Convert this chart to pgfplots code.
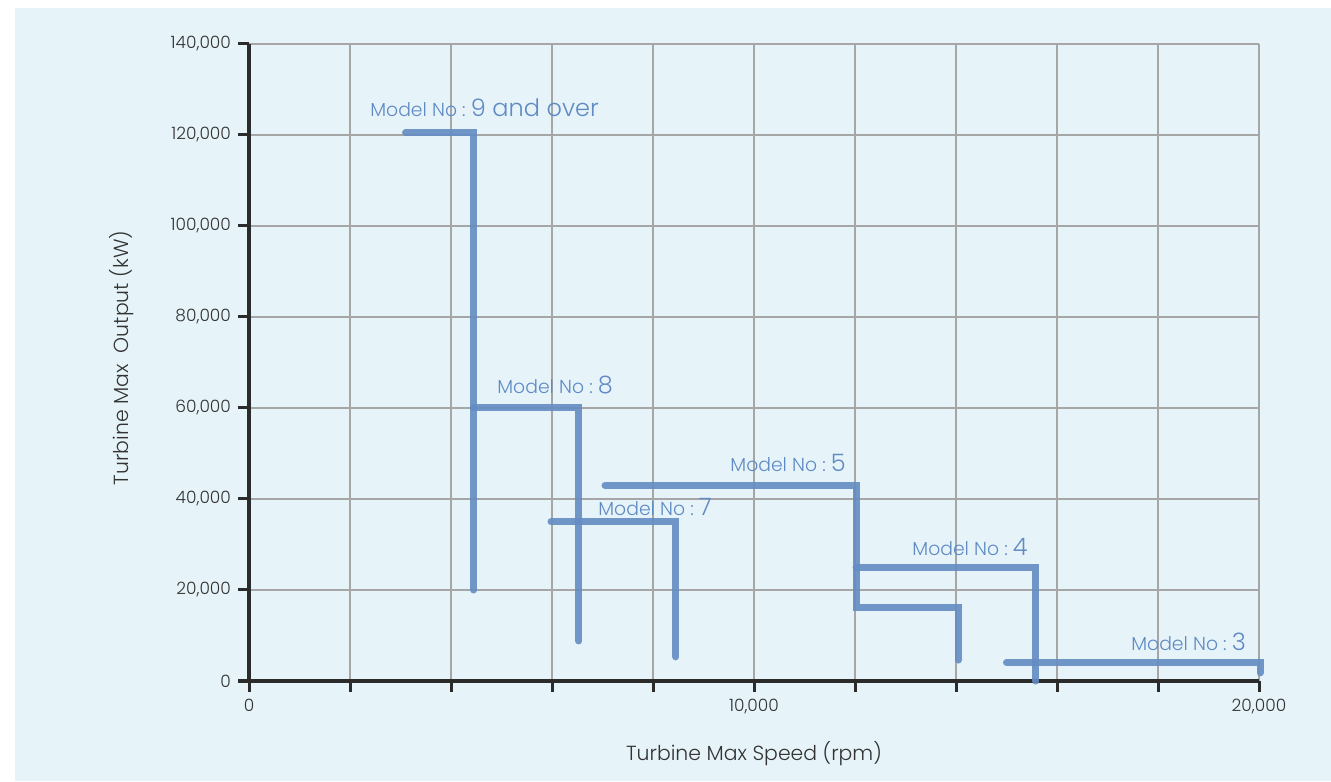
\documentclass[border=0pt]{standalone}
\usepackage{pgfplots}
\pgfplotsset{compat=1.18}
\usepackage{fontspec}
\setmainfont{Poppins}[UprightFont=* Light]

\definecolor{bgc}{HTML}{E6F4F9}
\definecolor{lineblue}{HTML}{648CC3}
\definecolor{labelblue}{HTML}{5F8AC4}
\definecolor{axisdark}{HTML}{2B2B2B}
\definecolor{gridgray}{HTML}{A6A6A6}
\definecolor{textdark}{HTML}{333333}

\tikzset{mtext/.style={anchor=base west, inner sep=0pt, text=labelblue}}

% label: small "Model No :" then a bigger model number
\newcommand{\mlab}[1]{{\fontsize{9.4}{11}\selectfont Model No :\ }{\fontsize{12}{14}\selectfont #1}}

\begin{document}
\begin{tikzpicture}
\fill[bgc] (7.5pt,0pt) rectangle (665.5pt,386.5pt);
\begin{axis}[
    at={(124.5pt,50pt)}, anchor=south west,
    scale only axis,
    width=505pt, height=318.5pt,
    xmin=0, xmax=20000,
    ymin=0, ymax=140000,
    clip=false,
    scaled ticks=false,
    axis x line*=bottom,
    axis y line*=left,
    axis line style={axisdark, line width=2pt},
    tick align=outside,
    major tick length=5.5pt,
    tick style={axisdark, line width=1.5pt},
    xtick={0,2000,...,20000},
    xticklabels={0,,,,,{10,000},,,,,{20,000}},
    ytick={0,20000,...,140000},
    yticklabels={0,{20,000},{40,000},{60,000},{80,000},{100,000},{120,000},{140,000}},
    grid=major,
    grid style={gridgray, line width=0.65pt},
    ticklabel style={font=\fontsize{8.5}{10}\selectfont, text=textdark},
    xlabel={Turbine Max Speed (rpm)},
    ylabel={Turbine Max\ \ Output (kW)},
    label style={font=\fontsize{10.2}{12}\selectfont, text=textdark},
    xlabel style={at={(axis description cs:0.5,0)}, anchor=center, yshift=-36.5pt},
    ylabel style={at={(axis description cs:0,0.507)}, anchor=center, yshift=63.5pt},
    mline/.style={lineblue, opacity=0.9, line width=3.5pt, line cap=round, line join=miter, no markers},
]
% Model 9 and over
\addplot[mline] coordinates {(3100,120500) (4450,120500) (4450,20000)};
% Model 8
\addplot[mline] coordinates {(4450,60000) (6530,60000) (6530,8800)};
% Model 7
\addplot[mline] coordinates {(5980,35000) (8450,35000) (8450,5300)};
% Model 5
\addplot[mline] coordinates {(7050,43000) (12020,43000) (12020,16200) (14040,16200) (14040,4600)};
% Model 4
\addplot[mline] coordinates {(12020,25000) (15580,25000) (15580,0)};
% Model 3
\addplot[mline] coordinates {(15000,4100) (20020,4100) (20020,1800)};

\node[mtext] at (axis cs:2396,123956) {\mlab{9 and over}};
\node[mtext] at (axis cs:4911,63077) {\mlab{8}};
\node[mtext] at (axis cs:6911,36264) {\mlab{7}};
\node[mtext] at (axis cs:9525,45934) {\mlab{5}};
\node[mtext] at (axis cs:13129,27473) {\mlab{4}};
\node[mtext] at (axis cs:17465,6813) {\mlab{3}};
\end{axis}
\pgfresetboundingbox
\path[use as bounding box] (0pt,0pt) rectangle (665.5pt,390.5pt);
\end{tikzpicture}
\end{document}
